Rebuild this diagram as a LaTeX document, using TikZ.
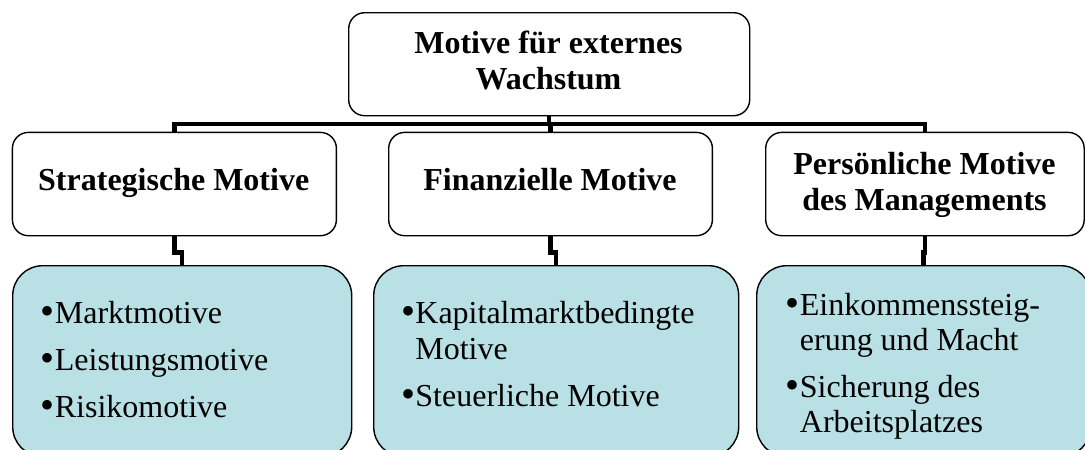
\documentclass[tikz,border=0pt]{standalone}
\usepackage{graphicx}
\usepackage{fontspec}
\setmainfont{Liberation Serif}
\usetikzlibrary{calc}
\definecolor{boxblue}{RGB}{185,224,228}
\newcommand{\bul}{\makebox[14.2pt][l]{\raisebox{-1.8pt}{\scalebox{1.25}{•}}}}
\newcommand{\hang}{\hspace*{14.2pt}}
\begin{document}
\begin{tikzpicture}[x=1pt,y=-1pt,
  box/.style={draw=black, line width=1.4pt, rounded corners=16pt, fill=white, inner sep=0pt, anchor=north west},
  lowbox/.style={draw=black, line width=1.4pt, rounded corners=30pt, fill=boxblue, inner sep=0pt, anchor=north west},
  conn/.style={draw=black, line width=4.5pt},
  title/.style={font=\fontsize{32}{36}\selectfont\bfseries, inner sep=0pt, anchor=base},
  item/.style={font=\fontsize{32}{35}\selectfont, inner sep=0pt, anchor=base west}]
\useasboundingbox (0,0) rectangle (1085,450);
\clip (0,0) rectangle (1085,450);
\fill[white] (0,0) rectangle (1085,450);
% boxes
\node[box, minimum width=401pt, minimum height=103pt] (top) at (348,12) {};
\node[box, minimum width=324pt, minimum height=103.3pt] (S) at (11.7,131.7) {};
\node[box, minimum width=323.7pt, minimum height=103.3pt] (F) at (388,131.7) {};
\node[box, minimum width=318.5pt, minimum height=103.3pt] (P) at (765,131.7) {};
\node[lowbox, minimum width=339pt, minimum height=191pt] (A) at (12,265) {};
\node[lowbox, minimum width=365pt, minimum height=191pt] (B) at (373,265) {};
\node[lowbox, minimum width=334pt, minimum height=191pt] (C) at (756,265) {};
% connectors
\coordinate (bus) at (0,124);
\draw[conn] (top.south) -- (top.south |- bus) -| (S.north);
\draw[conn] (top.south |- bus) -| (P.north);
\draw[conn] (top.south |- bus) -| (F.north);
\draw[conn] (S.south) -- ++(0,16) -| (A.north);
\draw[conn] (F.south) -- ++(0,16) -| (B.north);
\draw[conn] (P.south) -- ++(0,16) -| (C.north);
% titles
\node[title] (tt) at (548.5,53) {\parbox[t]{390pt}{\centering Motive für externes\\Wachstum}};
\node[title] (st) at (173.7,190.7) {Strategische Motive};
\node[title] (ft) at (550,190.7) {Finanzielle Motive};
\node[title] (pt) at (924.5,174) {\parbox[t]{310pt}{\centering Persönliche Motive\\des Managements}};
% items
\node[item] (at) at (40.5,323) {\parbox[t]{300pt}{\bul Marktmotive\\[12pt]\bul Leistungsmotive\\[12pt]\bul Risikomotive}};
\node[item] (bt) at (401,323) {\parbox[t]{330pt}{\bul Kapitalmarktbedingte\\[1pt]\hang Motive\\[12pt]\bul Steuerliche Motive}};
\node[item] (ct) at (785.5,315) {\parbox[t]{295pt}{\bul Einkommenssteig-\\\hang erung und Macht\\[12pt]\bul Sicherung des\\\hang Arbeitsplatzes}};
\end{tikzpicture}
\end{document}
